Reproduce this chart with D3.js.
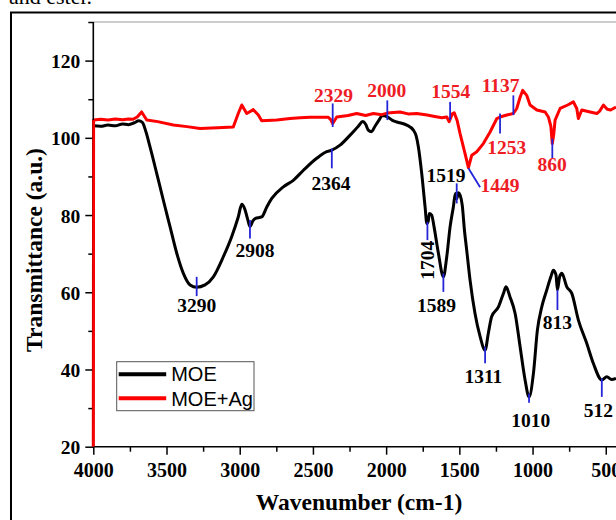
<!DOCTYPE html>
<html>
<head>
<meta charset="utf-8">
<script src="https://cdn.jsdelivr.net/npm/d3@7"></script>
<style>
  body { margin: 0; background: #fff; }
  svg { display: block; }
  .tick-label { font-family: "Liberation Serif", "Times New Roman", serif; font-weight: bold; font-size: 19.5px; }
  .title { font-family: "Liberation Serif", "Times New Roman", serif; font-weight: bold; font-size: 23.5px; }
  .peak { font-family: "Liberation Serif", "Times New Roman", serif; font-weight: bold; font-size: 19.5px; }
  .legend { font-family: "Liberation Sans", Arial, sans-serif; font-size: 20px; }
</style>
</head>
<body>
<div id="chart"></div>
<script>
// MOE spectrum [wavenumber, transmittance]
const moe = [
  [4000, 103.1], [3950, 103.0], [3900, 103.3], [3850, 103.1], [3800, 103.6], [3760, 103.4],
  [3720, 103.9], [3690, 104.4], [3665, 104.0], [3640, 101.5], [3613, 97.7], [3567, 90.8],
  [3522, 83.9], [3476, 77.0], [3430, 70.1], [3385, 64.9], [3339, 61.9], [3294, 61.3],
  [3237, 61.9], [3180, 64.0], [3112, 69.2], [3055, 74.4], [3010, 79.5], [2986, 82.8],
  [2965, 81.5], [2945, 78.8], [2930, 77.0], [2910, 78.5], [2895, 79.1], [2850, 79.5],
  [2815, 82.1], [2781, 84.3], [2702, 87.3], [2634, 89.0], [2565, 91.6], [2474, 94.7],
  [2406, 96.4], [2371, 96.8], [2315, 98.1], [2246, 100.7], [2190, 103.0], [2160, 104.2],
  [2140, 103.5], [2122, 102.0], [2100, 101.6], [2076, 103.0], [2050, 104.5], [2025, 105.8],
  [1995, 105.5], [1960, 104.6], [1927, 104.1], [1859, 103.3], [1814, 102.0], [1795, 100.5],
  [1780, 97.7], [1757, 90.8], [1734, 82.1], [1722, 77.8], [1712, 78.5], [1705, 80.4],
  [1689, 80.0], [1673, 77.0], [1643, 70.1], [1609, 64.0], [1586, 69.2], [1563, 77.0],
  [1541, 82.1], [1527, 85.6], [1518, 84.2], [1507, 85.8], [1495, 85.2], [1480, 82.5],
  [1465, 76.0], [1450, 71.0], [1427, 63.2], [1393, 54.5], [1358, 48.5], [1324, 45.0],
  [1302, 49.4], [1279, 53.7], [1233, 56.2], [1199, 59.7], [1181, 61.4], [1154, 58.8],
  [1119, 54.5], [1085, 45.9], [1051, 37.3], [1024, 32.9], [994, 39.0], [967, 50.2],
  [937, 56.2], [903, 60.6], [875, 64.0], [858, 65.7], [840, 64.5], [830, 60.6],
  [815, 64.0], [800, 64.9], [766, 61.4], [732, 59.7], [687, 52.8], [630, 46.8],
  [585, 41.6], [527, 37.3], [493, 38.1], [460, 37.4], [430, 37.7]
];

// MOE+Ag spectrum [wavenumber, transmittance]
const moeAg = [
  [4000, 20], [3998, 104.6], [3950, 104.8], [3900, 104.6], [3850, 104.9], [3800, 104.7],
  [3760, 104.9], [3729, 104.8], [3700, 105.4], [3670, 106.7], [3635, 104.6], [3560, 104.2],
  [3453, 103.3], [3360, 102.9], [3271, 102.4], [3150, 102.6], [3044, 102.8], [3010, 106.3],
  [2986, 108.5], [2952, 106.3], [2907, 107.3], [2873, 105.9], [2850, 104.4], [2747, 104.6],
  [2656, 105.0], [2588, 105.2], [2520, 105.3], [2395, 105.3], [2380, 104.8], [2365, 103.7],
  [2337, 105.4], [2260, 105.8], [2201, 106.3], [2140, 105.8], [2087, 106.3], [2030, 106.0],
  [1992, 106.4], [1905, 106.7], [1850, 106.2], [1791, 106.3], [1720, 105.9], [1677, 105.6],
  [1620, 105.2], [1586, 105.4], [1570, 104.2], [1563, 104.8], [1548, 106.2], [1535, 106.5],
  [1515, 104.5], [1495, 101.1], [1461, 95.9], [1438, 92.3], [1415, 95.5], [1381, 96.4],
  [1336, 98.5], [1290, 101.5], [1244, 105.0], [1222, 105.4], [1176, 105.9], [1131, 106.3],
  [1108, 107.6], [1085, 110.5], [1067, 112.3], [1040, 111.0], [1017, 108.5], [971, 107.2],
  [914, 106.7], [892, 105.4], [875, 103.0], [865, 98.5], [855, 101.0], [846, 104.6],
  [812, 107.6], [760, 108.5], [721, 109.3], [698, 107.6], [687, 105.0], [664, 107.2],
  [607, 106.7], [561, 106.3], [540, 107.0], [516, 108.5], [490, 107.4], [467, 107.2],
  [430, 108.0]
];

const xTicks = [4000, 3500, 3000, 2500, 2000, 1500, 1000, 500];
const xMinor = [3750, 3250, 2750, 2250, 1750, 1250, 750];
const yTicks = [20, 40, 60, 80, 100, 120];
const yMinor = [30, 50, 70, 90, 110, 130];

// peak labels: [text, marker wn, marker top, marker bottom, label wn, label value]
const moePeaks = [
  ["3290", 3294, 64.0, 59.0, 3294, 54.9],
  ["2908", 2930, 78.7, 73.9, 2895, 69.2],
  ["2364", 2371, 97.2, 92.1, 2376, 86.5],
  ["1589", 1609, 64.9, 60.1, 1656, 54.9],
  ["1519", 1518, 88.2, 83.0, 1591, 88.6],
  ["1311", 1324, 45.9, 41.6, 1336, 36.4],
  ["1010", 1024, 33.8, 31.4, 1012, 25.2],
  ["813", 830, 60.6, 55.4, 830, 50.6],
  ["512", 527, 37.7, 32.9, 550, 27.8]
];
const moeRotated = [["1704", 1718, 78.2, 73.5, 1722, 68.3]];

const agPeaks = [
  ["2329", 2365, 108.9, 102.8, 2360, 109.3],
  ["2000", 1992, 109.7, 104.6, 1996, 110.6],
  ["1554", 1563, 109.3, 104.6, 1558, 110.2],
  ["1137", 1131, 111.0, 105.9, 1218, 111.9],
  ["1253", 1222, 106.3, 101.1, 1176, 95.9],
  ["860", 865, 99.8, 94.7, 867, 91.4]
];
// diagonal leader: [text, wn1, v1, wn2, v2, label wn, label value]
const agDiag = [["1449", 1438, 92.1, 1358, 87.2, 1222, 86.0]];

const W = 616, H = 520;
const mLeft = 93.3, mRight = 620.4, mTop = 22, mBottom = 446.7;

const svg = d3.select("#chart").append("svg")
  .attr("width", W).attr("height", H);

const x = d3.scaleLinear().domain([4000, 400]).range([mLeft, mRight]);
const y = d3.scaleLinear().domain([20, 130]).range([mBottom, mTop]);

// caption remnant + outer frame
svg.append("text").attr("x", 9).attr("y", 4)
  .style("font-family", "Liberation Serif, Times New Roman, serif")
  .style("font-size", "22px").text("and ester.");
svg.append("rect").attr("x", 11).attr("y", 12.5).attr("width", 700).attr("height", 600)
  .attr("fill", "none").attr("stroke", "#000").attr("stroke-width", 2);

// top frame line
svg.append("line").attr("x1", mLeft).attr("x2", W).attr("y1", mTop).attr("y2", mTop)
  .attr("stroke", "#999").attr("stroke-width", 1.2);

const blue = "#2424d8";
const redLbl = "#ee1c24";

const line = d3.line().x(d => x(d[0])).y(d => y(d[1])).curve(d3.curveMonotoneX);

svg.append("path").datum(moe).attr("d", line)
  .attr("fill", "none").attr("stroke", "#000").attr("stroke-width", 3).attr("stroke-linejoin", "round");

svg.append("path").datum(moeAg).attr("d", d3.line().x(d => x(d[0])).y(d => y(d[1])))
  .attr("fill", "none").attr("stroke", "#ff0000").attr("stroke-width", 3).attr("stroke-linejoin", "round");

// axes
const xAxis = svg.append("g").attr("transform", `translate(0,${mBottom})`)
  .call(d3.axisBottom(x).tickValues(xTicks).tickSize(8).tickFormat(d3.format("d")));
svg.append("g").attr("transform", `translate(0,${mBottom})`)
  .call(d3.axisBottom(x).tickValues(xMinor).tickSize(5).tickFormat(""))
  .call(g => g.select(".domain").remove());
const yAxis = svg.append("g").attr("transform", `translate(${mLeft},0)`)
  .call(d3.axisLeft(y).tickValues(yTicks).tickSize(8));
svg.append("g").attr("transform", `translate(${mLeft},0)`)
  .call(d3.axisLeft(y).tickValues(yMinor).tickSize(5).tickFormat(""))
  .call(g => g.select(".domain").remove());

svg.selectAll(".domain").attr("stroke", "#000").attr("stroke-width", 1.6);
svg.selectAll(".tick line").attr("stroke", "#000").attr("stroke-width", 1.5);
xAxis.selectAll(".tick text").attr("class", "tick-label").attr("fill", "#000")
  .attr("y", 0).attr("dy", null).attr("transform", "translate(0,30.5)").style("font-size", "20px");
yAxis.selectAll(".tick text").attr("class", "tick-label").attr("fill", "#000")
  .attr("x", -13).attr("dy", "0.36em");
yAxis.select(".domain").attr("d", `M0,${mTop}V${mBottom}`);
xAxis.select(".domain").attr("d", `M${mLeft},0H${W}`);

// red curve start drawn over the axis
svg.append("path").datum(moeAg.slice(0, 2)).attr("d", d3.line().x(d => x(d[0])).y(d => y(d[1])))
  .attr("stroke", "#ff0000").attr("stroke-width", 2.2);

// titles
svg.append("text").attr("class", "title").attr("x", 359).attr("y", 510)
  .attr("text-anchor", "middle").text("Wavenumber (cm-1)");
svg.append("text").attr("class", "title").attr("transform", "translate(42,250) rotate(-90)")
  .attr("text-anchor", "middle").text("Transmittance (a.u.)");

// peak annotations
function peaks(list, color) {
  list.forEach(p => {
    svg.append("line").attr("x1", x(p[1])).attr("x2", x(p[1]))
      .attr("y1", y(p[2])).attr("y2", y(p[3]))
      .attr("stroke", blue).attr("stroke-width", 1.8);
    svg.append("text").attr("class", "peak").attr("fill", color)
      .attr("x", x(p[4])).attr("y", y(p[5])).attr("text-anchor", "middle").text(p[0]);
  });
}
peaks(moePeaks, "#000");
peaks(agPeaks, redLbl);

moeRotated.forEach(p => {
  svg.append("line").attr("x1", x(p[1])).attr("x2", x(p[1]))
    .attr("y1", y(p[2])).attr("y2", y(p[3]))
    .attr("stroke", blue).attr("stroke-width", 1.8);
  svg.append("text").attr("class", "peak").attr("fill", "#000")
    .attr("transform", `translate(${x(p[4])},${y(p[5])}) rotate(-90)`)
    .attr("text-anchor", "middle").attr("dy", "0.35em").text(p[0]);
});

agDiag.forEach(p => {
  svg.append("line").attr("x1", x(p[1])).attr("y1", y(p[2]))
    .attr("x2", x(p[3])).attr("y2", y(p[4]))
    .attr("stroke", blue).attr("stroke-width", 1.8);
  svg.append("text").attr("class", "peak").attr("fill", redLbl)
    .attr("x", x(p[5])).attr("y", y(p[6])).attr("text-anchor", "middle").text(p[0]);
});

// legend
const series = [["MOE", "#000"], ["MOE+Ag", "#ff0000"]];
const lg = svg.append("g").attr("transform", "translate(116.7,361.7)");
lg.append("rect").attr("width", 137.3).attr("height", 49)
  .attr("fill", "#fff").attr("stroke", "#555").attr("stroke-width", 1);
series.forEach((s, i) => {
  lg.append("line").attr("x1", 2).attr("x2", 49.5)
    .attr("y1", 12.6 + i * 24).attr("y2", 12.6 + i * 24)
    .attr("stroke", s[1]).attr("stroke-width", 4);
  lg.append("text").attr("class", "legend").attr("x", 54.5).attr("y", 19.8 + i * 24.5).text(s[0]);
});
</script>
</body>
</html>
